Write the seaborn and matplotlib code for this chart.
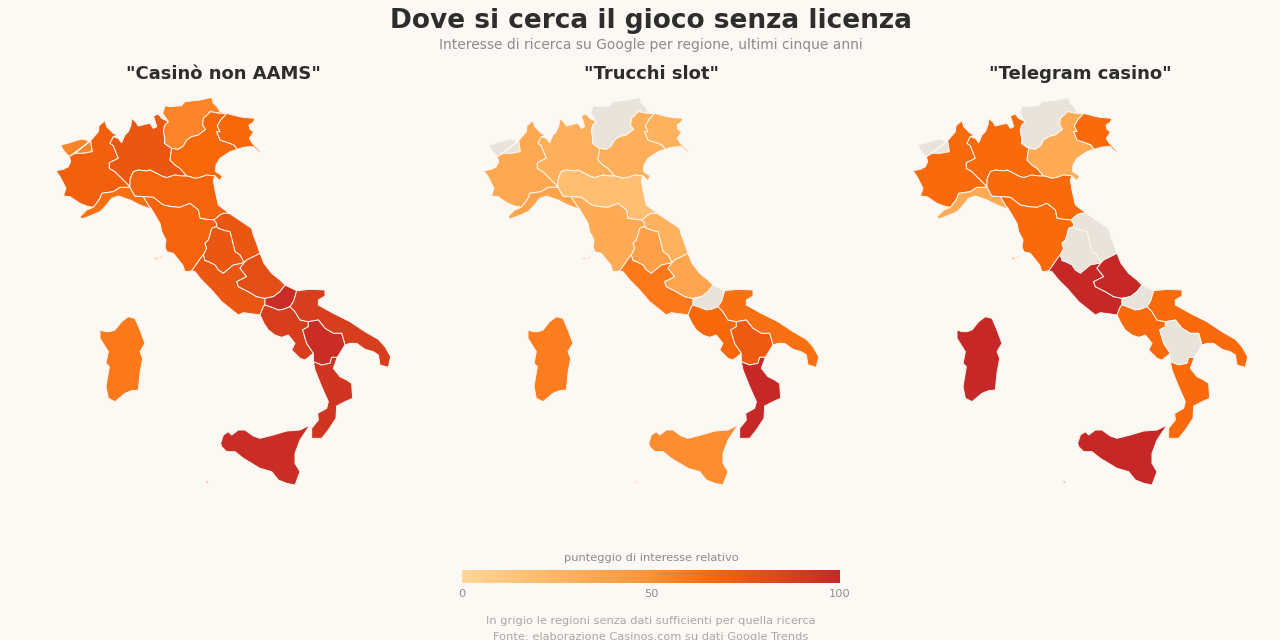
import numpy as np
import pandas as pd
import seaborn as sns
import matplotlib
matplotlib.use("Agg")
import matplotlib.pyplot as plt
from matplotlib.colors import LinearSegmentedColormap, Normalize
from matplotlib.cm import ScalarMappable

# ---- chart values ----
REGIONS = ["Valle d'Aosta", "Piemonte", "Liguria", "Lombardia", "Trentino-Alto Adige", "Veneto",
           "Friuli-Venezia Giulia", "Emilia-Romagna", "Toscana", "Marche", "Umbria", "Lazio",
           "Abruzzo", "Molise", "Campania", "Puglia", "Basilicata", "Calabria", "Sicilia", "Sardegna"]
CASINO = [55, 70, 63, 75, 55, 66, 66, 68, 68, 75, 75, 75, 80, 97, 88, 88, 97, 93, 97, 60]
TRUCCHI = [np.nan, 34, 38, 30, np.nan, 30, 27, 18, 33, 28, 40, 60, 36, np.nan, 66, 63, 73, 100, 52, 58]
TELEGRAM = [np.nan, 65, 33, 65, np.nan, 33, 65, 65, 65, np.nan, np.nan, 100, 100, np.nan, 65, 65, np.nan, 65, 100, 100]
PANEL_TITLES = ['"Casinò non AAMS"', '"Trucchi slot"', '"Telegram casino"']
COLORBAR_TICKS = [0, 50, 100]

BG = "#FCF8F3"
NODATA = "#E9E4DB"
cmap = LinearSegmentedColormap.from_list(
    "interesse", [(0, "#FFD699"), (0.25, "#FFB562"), (0.5, "#FF9236"), (0.66, "#F8680A"), (1, "#C62828")])


def A(p): return [(50 + x / 3, 90 + y / 3) for x, y in p]
def B(p): return [(140 + x / 3, 190 + y / 3) for x, y in p]
def C(p): return [(250 + x / 3, 280 + y / 3) for x, y in p]
def D(p): return [(200 + x / 3, 410 + y / 3) for x, y in p]
def E(p): return [(90 + x / 3, 310 + y / 3) for x, y in p]
def r(p): return p[::-1]

vda_pie = A([(122,152),(127,185),(100,190),(75,190),(58,200)])
vda_out = A([(58,200),(48,190),(40,180),(32,165),(60,158),(78,152),(95,147),(108,150),(118,155),(122,152)])
pie_north = A([(122,152),(145,125),(147,107),(165,92),(170,110),(190,130),(203,135),(190,140)])
pie_lom = A([(190,140),(180,160),(190,167),(197,185),(205,205),(178,218),(178,235),(195,245),(215,265),(235,285),(240,292)])
pie_lig = A([(240,292),(210,292),(190,305),(155,310),(150,325),(143,335),(130,352)])
pie_out = A([(130,352),(110,348),(90,340),(75,330),(60,320),(40,318),(48,295),(38,275),(30,260),(18,242),(40,238),(55,230),(62,215),(58,200)])
lig_emi = A([(240,292),(255,318),(280,320)])
lig_tos = A([(280,320),(295,345),(305,358)])
lig_out = A([(305,358),(270,345),(240,330),(205,318),(185,325),(165,350),(150,365),(120,378),(95,387),(90,380),(110,360),(130,352)])
lom_north = A([(190,140),(205,145),(215,158),(225,135),(235,125),(243,105),(245,85),(258,97),(265,108),(285,103),(300,100),(310,115),(320,110),(315,92),(310,78),(325,72),(335,85),(355,95)])
lom_trn = A([(355,95),(345,105),(340,120),(345,150),(343,160),(365,175)])
lom_ven = A([(365,175),(360,210),(375,225),(390,235),(410,258)])
lom_emi = A([(410,258),(395,258),(375,255),(365,258),(350,263),(335,258),(320,250),(300,240),(290,243),(265,240),(250,245),(243,260),(240,270),(240,292)])
trn_out = A([(355,95),(338,70),(345,47),(360,50),(395,47),(405,35),(430,32),(450,30),(485,22),(490,40),(500,48),(510,65),(530,70)])
trn_ven = A([(530,70),(510,70),(480,65),(475,72),(460,85),(458,105),(467,118),(445,135),(425,140),(410,150),(400,168),(385,178),(365,175)])
ven_fri = A([(530,70),(512,90),(502,108),(510,125),(500,125),(510,150),(540,160),(552,165),(562,178)])
ven_out = A([(562,178),(540,185),(510,205),(498,225),(497,245),(517,258),(510,272),(495,258)])
ven_emi = A([(495,258),(470,255),(450,262),(435,265),(420,260),(410,258)])
fri_out = A([(530,70),(560,78),(580,82),(615,85),(610,97),(597,105),(600,118),(610,125),(605,135),(598,145),(607,160),(632,185),(628,187),(610,170),(600,170),(580,172),(562,178)])
emi_out = A([(495,258),(490,270),(495,300),(505,345),(538,370)])
emi_mar = A([(538,370),(520,370),(510,375),(492,390)])
emi_tos = A([(492,390),(470,388),(450,385),(445,360),(420,340),(390,352),(365,350),(340,345),(310,322),(280,320)])
tos_mar = B([(222,90),(230,100),(230,110)])
tos_umb = B([(230,110),(215,115),(210,135),(205,150),(195,160),(200,175),(190,195)])
tos_laz = B([(190,195),(185,200),(155,243)])
tos_out = B([(155,243),(135,245),(128,225),(112,205),(100,190),(80,185),(75,170),(78,150),(65,125),(60,100),(35,58)])
elba = B([(42,203),(55,204),(68,197),(66,203),(52,208),(43,207)])
mar_out = B([(268,70),(295,88),(320,105),(335,115),(340,135),(348,155),(360,190)])
mar_abr = B([(360,190),(320,210),(312,218)])
mar_umb = B([(312,218),(300,195),(285,185),(280,165),(270,125),(255,122),(235,115),(230,110)])
umb_laz = B([(312,218),(295,222),(280,225),(262,240),(250,250),(235,240),(225,225),(205,215),(195,212),(190,195)])
laz_abr = B([(312,218),(300,235),(320,260),(290,275),(295,290),(325,305),(350,320),(375,325)])
laz_mol = B([(375,325),(375,345)])
laz_cam = B([(375,345),(370,350),(360,375)])
laz_out = B([(360,375),(340,372),(325,370),(310,368),(295,375),(270,355),(245,335),(215,300),(185,270),(165,245),(155,243)])
abr_out = B([(360,190),(372,220),(395,250),(420,270),(435,285)])
abr_mol = B([(435,285),(420,305),(400,320),(375,325)])
mol_out = C([(105,15),(140,32)])
mol_pug = C([(140,32),(135,50),(130,65),(120,80)])
mol_cam = C([(120,80),(100,88),(85,90),(65,82),(45,75)])
cam_pug = C([(120,80),(135,95),(150,120),(175,125)])
cam_bas = C([(175,125),(175,140),(158,150),(170,190),(190,220)])
cam_out = C([(190,220),(165,240),(150,235),(125,210),(135,190),(115,165),(95,172),(75,165),(55,150),(42,130),(30,105)])
pug_bas = C([(175,125),(205,120),(225,145),(250,160),(275,160),(285,195)])
pug_out = C([(285,195),(300,190),(320,190),(345,208),(370,215),(385,225),(390,255),(415,262),(422,230),(405,200),(385,178),(345,155),(300,125),(250,100),(205,75),(205,60),(225,48),(225,30),(180,28),(140,32)])
bas_ion = C([(285,195),(262,232)])
bas_cal = C([(262,232),(245,232),(240,250),(215,255),(190,245)])
bas_tyr = C([(190,245),(190,220)])
cal_out = C([(262,232),(250,265),(270,290),(290,300),(305,310),(308,355),(285,365),(260,378),(258,415),(235,450),(215,475),(185,475),(185,445),(205,420),(203,400),(230,385),(235,365),(215,320),(195,270),(190,245)])
sicily = D([(62,100),(70,75),(85,65),(95,75),(115,60),(135,60),(160,78),(180,85),(220,75),(260,63),(300,60),(330,45),(300,90),(285,130),(285,160),(300,185),(285,225),(260,220),(235,210),(215,185),(180,175),(130,145),(105,125),(80,125),(65,110)])
pantelleria = D([(17,212),(24,214),(26,220),(20,218)])
sardinia = E([(30,60),(45,65),(60,65),(75,60),(95,35),(115,20),(135,25),(150,60),(165,100),(150,125),(158,145),(150,190),(145,240),(125,242),(105,250),(75,275),(55,265),(48,230),(58,170),(48,160),(55,125),(30,85)])

SHAPES = {
    "Valle d'Aosta": [vda_out + r(vda_pie)[1:]],
    "Piemonte": [pie_north + pie_lom + pie_lig + pie_out + r(vda_pie)],
    "Liguria": [lig_emi + lig_tos + lig_out + r(pie_lig)],
    "Lombardia": [lom_north + lom_trn + lom_ven + lom_emi + r(pie_lom)],
    "Trentino-Alto Adige": [trn_out + trn_ven + r(lom_trn)],
    "Veneto": [r(trn_ven) + ven_fri + ven_out + ven_emi + r(lom_ven)],
    "Friuli-Venezia Giulia": [fri_out + r(ven_fri)],
    "Emilia-Romagna": [r(lom_emi) + r(ven_emi) + emi_out + emi_mar + emi_tos + r(lig_emi)],
    "Toscana": [r(lig_tos) + r(emi_tos) + tos_mar + tos_umb + tos_laz + tos_out, elba],
    "Marche": [r(emi_mar) + mar_out + mar_abr + mar_umb + r(tos_mar)],
    "Umbria": [r(mar_umb) + umb_laz + r(tos_umb)],
    "Lazio": [r(tos_laz) + r(umb_laz) + laz_abr + laz_mol + laz_cam + laz_out],
    "Abruzzo": [r(mar_abr) + abr_out + abr_mol + r(laz_abr)],
    "Molise": [mol_out + mol_pug + mol_cam + r(laz_mol) + r(abr_mol)],
    "Campania": [r(laz_cam) + r(mol_cam) + cam_pug + cam_bas + cam_out],
    "Puglia": [mol_pug + cam_pug + pug_bas + pug_out],
    "Basilicata": [r(cam_bas) + pug_bas + bas_ion + bas_cal + bas_tyr],
    "Calabria": [r(bas_cal) + cal_out],
    "Sicilia": [sicily, pantelleria],
    "Sardegna": [sardinia],
}

df = pd.DataFrame({"regione": REGIONS, PANEL_TITLES[0]: CASINO, PANEL_TITLES[1]: TRUCCHI, PANEL_TITLES[2]: TELEGRAM})
long = df.melt(id_vars="regione", var_name="ricerca", value_name="punteggio")

sns.set_theme(style="white", rc={"figure.facecolor": BG, "axes.facecolor": BG, "savefig.facecolor": BG})
plt.rcParams["font.family"] = ["DejaVu Sans"]

W, H = 1280, 640
fig = plt.figure(figsize=(W / 100, H / 100), dpi=100)
norm = Normalize(0, 100)
XLIM = (30, 416)
YLIM = (540, 88)
PANEL_SHIFT = [0, 428, 857]

for title, shift in zip(PANEL_TITLES, PANEL_SHIFT):
    ax = fig.add_axes([(XLIM[0] + shift) / W, 1 - YLIM[0] / H, (XLIM[1] - XLIM[0]) / W, (YLIM[0] - YLIM[1]) / H])
    sub = long[long["ricerca"] == title]
    for reg, val in zip(sub["regione"], sub["punteggio"]):
        col = NODATA if np.isnan(val) else cmap(norm(val))
        for part in SHAPES[reg]:
            xs, ys = zip(*part)
            ax.fill(xs, ys, facecolor=col, edgecolor="#FDF7F0", linewidth=0.7, joinstyle="round")
    ax.set_xlim(*XLIM)
    ax.set_ylim(*YLIM)
    ax.set_xticks([])
    ax.set_yticks([])
    sns.despine(ax=ax, left=True, bottom=True)
    ax.patch.set_alpha(0)
    fig.text((XLIM[0] + XLIM[1]) / 2 / W + shift / W, 1 - 74 / H, title, ha="center", va="center",
             fontsize=13, fontweight="bold", color="#2D2D2D")

fig.text(651 / W, 1 - 21 / H, "Dove si cerca il gioco senza licenza", ha="center", va="center",
         fontsize=19, fontweight="bold", color="#2D2D2D")
fig.text(651 / W, 1 - 45 / H, "Interesse di ricerca su Google per regione, ultimi cinque anni", ha="center",
         va="center", fontsize=10, color="#8C8C8C")

cax = fig.add_axes([462 / W, 1 - 583 / H, 378 / W, 13 / H])
cb = fig.colorbar(ScalarMappable(norm=norm, cmap=cmap), cax=cax, orientation="horizontal", ticks=COLORBAR_TICKS)
cb.outline.set_visible(False)
cb.ax.tick_params(length=0, labelsize=8.2, labelcolor="#8C8C8C", pad=4)
fig.text(651 / W, 1 - 558 / H, "punteggio di interesse relativo", ha="center", va="center", fontsize=8.2, color="#8C8C8C")
fig.text(651 / W, 1 - 621 / H, "In grigio le regioni senza dati sufficienti per quella ricerca", ha="center",
         va="center", fontsize=8.2, color="#ABA9A5")
fig.text(651 / W, 1 - 637 / H, "Fonte: elaborazione Casinos.com su dati Google Trends", ha="center",
         va="center", fontsize=8.2, color="#ABA9A5")

fig.savefig("out.png", dpi=100)
